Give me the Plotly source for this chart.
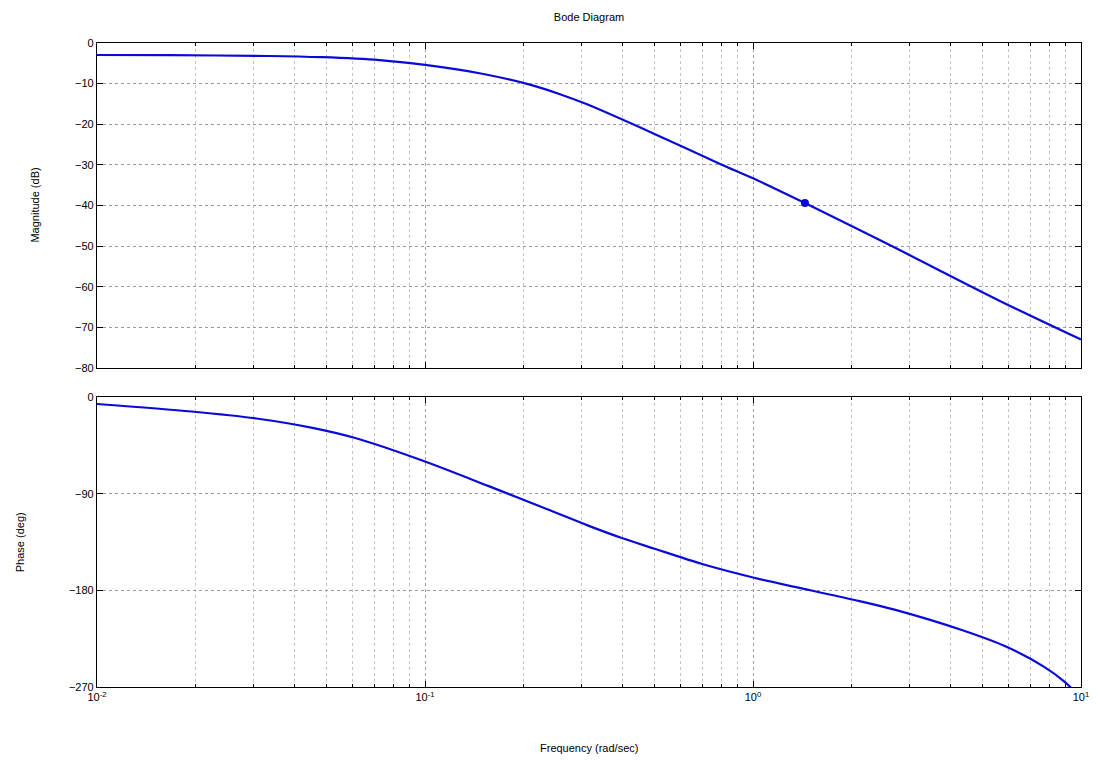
import plotly.graph_objects as go
from plotly.subplots import make_subplots

# Magnitude response samples (rad/s, dB)
freq_mag = [0.01, 0.0166, 0.0334, 0.0484, 0.0727, 0.1, 0.148, 0.21, 0.258,
            0.312, 0.495, 0.806, 1.0, 1.44, 2.62, 5.76, 10.0]
mag_db = [-2.95, -3.0, -3.2, -3.5, -4.2, -5.4, -7.5, -10.3, -12.6,
          -15.1, -22.2, -30.0, -33.3, -39.4, -49.8, -63.8, -73.0]

# Phase response samples (rad/s, deg)
freq_ph = [0.01, 0.0194, 0.0306, 0.045, 0.0613, 0.0972, 0.155, 0.236, 0.313,
           0.4, 0.498, 0.7, 1.0, 2.04, 2.7, 4.33, 5.97, 7.7, 8.9, 10.0]
phase_deg = [-6.5, -13.5, -20.0, -28.5, -38.2, -58.7, -82.5, -104.5, -119.5,
             -131.5, -141.0, -155.5, -168.0, -189.0, -198.0, -217.0, -233.0, -251.0, -265.0, -280.0]

# Highlighted point on the magnitude curve
marker_freq = [1.44]
marker_db = [-39.4]

mag_ticks = [0, -10, -20, -30, -40, -50, -60, -70, -80]
phase_ticks = [0, -90, -180, -270]
freq_ticks = [0.01, 0.1, 1, 10]
freq_tick_text = ["10<sup>-2</sup>", "10<sup>-1</sup>", "10<sup>0</sup>", "10<sup>1</sup>"]

LINE = "#0a0ad8"
GRID = "#9a9a9a"
MINOR = "#c4c4c4"
FONT = "Liberation Sans, Arial, sans-serif"

fig = make_subplots(rows=2, cols=1, shared_xaxes=True)

fig.add_trace(go.Scatter(x=freq_mag, y=mag_db, mode="lines",
                         line=dict(color=LINE, width=2.2, shape="spline", smoothing=0.8),
                         showlegend=False), row=1, col=1)
fig.add_trace(go.Scatter(x=marker_freq, y=marker_db, mode="markers",
                         marker=dict(color=LINE, size=8),
                         showlegend=False), row=1, col=1)
fig.add_trace(go.Scatter(x=freq_ph, y=phase_deg, mode="lines",
                         line=dict(color=LINE, width=2.2, shape="spline", smoothing=0.8),
                         showlegend=False), row=2, col=1)

xcommon = dict(type="log", range=[-2, 1], tickvals=freq_ticks, ticktext=freq_tick_text,
               showgrid=True, gridcolor=GRID, griddash="dot", gridwidth=1,
               showline=True, linecolor="black", linewidth=1.2, mirror="ticks",
               ticks="inside", ticklen=6, tickcolor="black",
               minor=dict(dtick="D1", showgrid=True, gridcolor=MINOR,
                          griddash="dot", ticks="inside", ticklen=3, tickcolor="black"),
               zeroline=False, tickfont=dict(family=FONT, size=11, color="black"))

fig.update_xaxes(**xcommon)
fig.update_xaxes(showticklabels=False, row=1, col=1)

ycommon = dict(showgrid=True, gridcolor=GRID, griddash="dot", gridwidth=1,
               showline=True, linecolor="black", linewidth=1.2, mirror="ticks",
               ticks="inside", ticklen=6, tickcolor="black", zeroline=False,
               tickfont=dict(family=FONT, size=11, color="black"))
fig.update_yaxes(**ycommon)
fig.update_yaxes(range=[-80, 0], tickvals=mag_ticks, domain=[0.4953, 1.0], row=1, col=1)
fig.update_yaxes(range=[-270, 0], tickvals=phase_ticks, domain=[0.0, 0.4503], row=2, col=1)

fig.update_layout(
    width=1101, height=765,
    margin=dict(l=97, r=13, t=43, b=78),
    paper_bgcolor="white", plot_bgcolor="white",
    font=dict(family=FONT, size=11, color="black"),
    title=dict(text="Bode Diagram", x=0.535, xanchor="center", y=0.978,
               yanchor="middle", font=dict(family=FONT, size=11, color="black")),
    annotations=[
        dict(text="Frequency (rad/sec)", xref="paper", yref="paper",
             x=0.5, y=-0.095, xanchor="center", yanchor="middle",
             showarrow=False, font=dict(family=FONT, size=11)),
        dict(text="Magnitude (dB)", xref="paper", yref="paper",
             x=-0.063, y=0.7476, xanchor="center", yanchor="middle", textangle=-90,
             showarrow=False, font=dict(family=FONT, size=11)),
        dict(text="Phase (deg)", xref="paper", yref="paper",
             x=-0.078, y=0.2252, xanchor="center", yanchor="middle", textangle=-90,
             showarrow=False, font=dict(family=FONT, size=11)),
    ],
)

fig.write_html("out.html")
